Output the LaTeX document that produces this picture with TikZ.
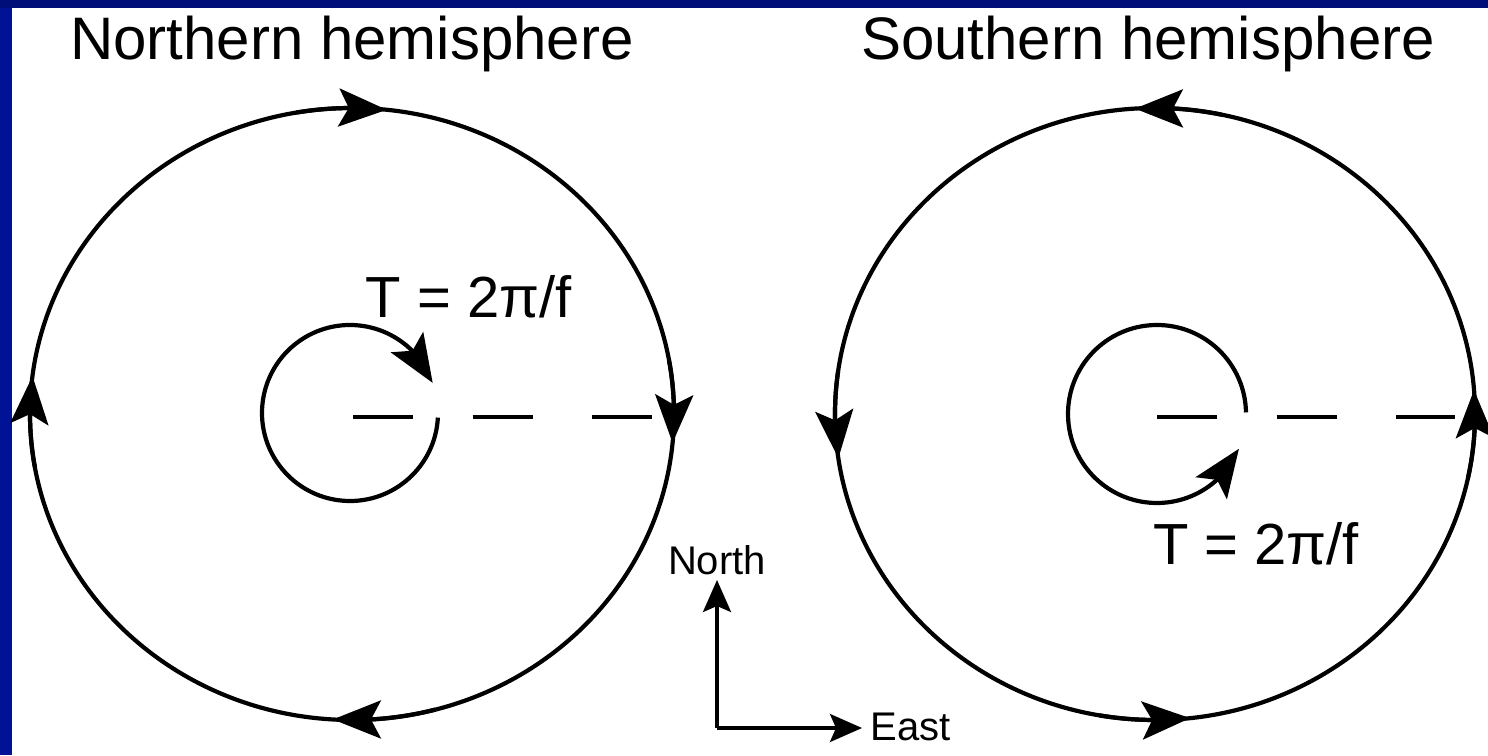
\documentclass[tikz,border=0pt]{standalone}
\usepackage{fontspec}
\setmainfont{Liberation Sans}
\usetikzlibrary{arrows.meta,bending,calc}
\definecolor{bandleft}{RGB}{0,18,150}
\definecolor{bandtop}{RGB}{0,14,122}
\begin{document}
\begin{tikzpicture}[x=0.5pt,y=0.5pt,
  curve/.style={line width=2.1pt},
  bigtip/.style={-{Stealth[length=24pt,width=19pt,inset=5pt]}, line width=2.1pt},
  axtip/.style={-{Stealth[length=16pt,width=14pt,inset=3pt]}, line width=1.7pt},
  dashline/.style={line width=2.1pt, dash pattern=on 30pt off 29.75pt},
  title/.style={font=\fontsize{30}{36}\selectfont, anchor=base, inner sep=0pt},
  period/.style={font=\fontsize{29}{35}\selectfont, anchor=base, inner sep=0pt},
  compass/.style={font=\fontsize{20}{24}\selectfont, inner sep=0pt}]
\useasboundingbox (0,0) rectangle (1488,755);
\fill[white] (0,0) rectangle (1488,755);
\fill[bandleft] (0,0) rectangle (12,755);
\fill[bandtop] (0,747) rectangle (1488,755);

% centres
\coordinate (NC) at (352,341);
\coordinate (SC) at (1155,341);
\coordinate (nc) at (350,342);
\coordinate (sc) at (1157,341);

% titles
\node[title] (nh) at (352,695) {Northern hemisphere};
\node[title] (sh) at (1148,695) {Southern hemisphere};

% Northern hemisphere: big ellipse, clockwise
\draw[curve] (NC) ellipse [x radius=322, y radius=306];
\draw[bigtip] ($(NC)+(100:322 and 306)$) arc[start angle=100, end angle=83.8, x radius=322, y radius=306];
\draw[bigtip] ($(NC)+(10:322 and 306)$) arc[start angle=10, end angle=-5.4, x radius=322, y radius=306];
\draw[bigtip] ($(NC)+(285:322 and 306)$) arc[start angle=285, end angle=266.6, x radius=322, y radius=306];
\draw[bigtip] ($(NC)+(190:322 and 306)$) arc[start angle=190, end angle=172.9, x radius=322, y radius=306];

% Northern small circle
\draw[bigtip] ($(nc)+(-3:88)$) arc[start angle=-3, end angle=-340, radius=88];
\draw[dashline] (353,338) -- (652,338);
\node[period] (tn) at (469,437) {T = 2π/f};

% Southern hemisphere: big ellipse, counter-clockwise
\draw[curve] (SC) ellipse [x radius=320, y radius=306];
\draw[bigtip] ($(SC)+(-12:320 and 306)$) arc[start angle=-12, end angle=4.5, x radius=320, y radius=306];
\draw[bigtip] ($(SC)+(78:320 and 306)$) arc[start angle=78, end angle=93.6, x radius=320, y radius=306];
\draw[bigtip] ($(SC)+(172:320 and 306)$) arc[start angle=172, end angle=188.3, x radius=320, y radius=306];
\draw[bigtip] ($(SC)+(260:320 and 306)$) arc[start angle=260, end angle=276.3, x radius=320, y radius=306];

% Southern small circle
\draw[bigtip] ($(sc)+(1:89)$) arc[start angle=1, end angle=337, radius=89];
\draw[dashline] (1157,338) -- (1455,338);
\node[period] (ts) at (1256,190) {T = 2π/f};

% compass
\coordinate (O) at (717,27);
\coordinate (Ntip) at (717,175);
\coordinate (Etip) at (862,27);
\draw[axtip] (O) -- (Ntip);
\draw[axtip] (O) -- (Etip);
\node[compass, anchor=base] (north) at (717,180) {North};
\node[compass, anchor=base west] (east) at (870,15) {East};
\end{tikzpicture}
\end{document}
